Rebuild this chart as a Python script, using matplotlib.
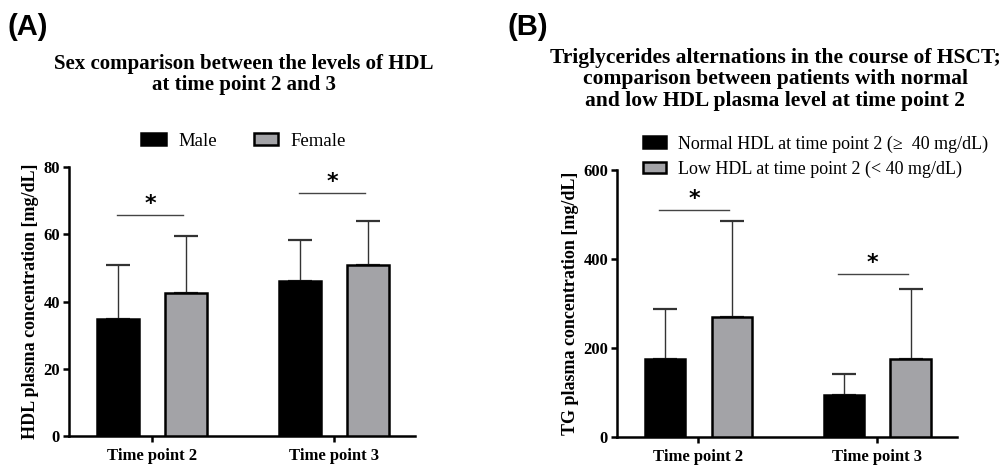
import numpy as np
import matplotlib
matplotlib.use('Agg')
import matplotlib.pyplot as plt

# data
time_points = ['Time point 2', 'Time point 3']

hdl_male = [34.8, 46.0]
hdl_male_sd = [16.2, 12.2]
hdl_female = [42.4, 50.8]
hdl_female_sd = [17.1, 13.2]
hdl_sig_y = [65.6, 72.2]

tg_normal = [176, 94]
tg_normal_sd = [112, 48]
tg_low = [270, 175]
tg_low_sd = [215, 158]
tg_sig_y = [510, 366]

plt.rcParams['font.family'] = ['Liberation Serif', 'DejaVu Serif']

BLACK = '#000000'
GRAY = '#a3a3a7'
off = 0.187
width = 0.228

fig = plt.figure(figsize=(10.03, 4.66), dpi=100)
axA = fig.add_axes([0.0688, 0.0644, 0.345, 0.5772])
axB = fig.add_axes([0.6152, 0.0622, 0.3389, 0.573])


def draw_panel(ax, v1, s1, v2, s2, sig_y, sig_x, ymax, yticks, ylabel):
    x = np.arange(len(time_points))
    b1 = ax.bar(x - off, v1, width, color=BLACK, edgecolor=BLACK, linewidth=1.8, zorder=3)
    b2 = ax.bar(x + off, v2, width, color=GRAY, edgecolor=BLACK, linewidth=1.8, zorder=3)
    for xs, vals, sds in [(x - off, v1, s1), (x + off, v2, s2)]:
        ax.errorbar(xs, vals, yerr=[np.zeros(len(sds)), sds], fmt='none',
                    ecolor='#333333', elinewidth=1.0, capsize=8.3, capthick=1.6, zorder=2)
    for i, y in enumerate(sig_y):
        ax.plot([i + sig_x[0], i + sig_x[1]], [y, y], color='#444444', lw=1.0)
        ax.text(i + (sig_x[0] + sig_x[1]) / 2, y + ymax * 0.042, '*', ha='center', va='center',
                fontsize=16, fontweight='bold', family='DejaVu Sans')
    ax.set_xlim(-0.455, 1.445)
    ax.set_ylim(0, ymax)
    ax.set_yticks(yticks)
    ax.set_xticks(x)
    ax.set_xticklabels(time_points)
    for s in ['top', 'right']:
        ax.spines[s].set_visible(False)
    for s in ['left', 'bottom']:
        ax.spines[s].set_linewidth(1.8)
    ax.tick_params(axis='both', length=4.5, width=1.8, labelsize=12, pad=2)
    ax.tick_params(axis='x', pad=4)
    for lab in ax.get_xticklabels() + ax.get_yticklabels():
        lab.set_fontweight('bold')
    ax.set_ylabel(ylabel, fontsize=13, fontweight='bold', labelpad=3)
    return b1, b2


bA1, bA2 = draw_panel(axA, hdl_male, hdl_male_sd, hdl_female, hdl_female_sd,
                      hdl_sig_y, (-0.19, 0.17), 80, [0, 20, 40, 60, 80],
                      'HDL plasma concentration [mg/dL]')
bB1, bB2 = draw_panel(axB, tg_normal, tg_normal_sd, tg_low, tg_low_sd,
                      tg_sig_y, (-0.22, 0.17), 600, [0, 200, 400, 600],
                      'TG plasma concentration [mg/dL]')

# titles and panel labels
fig.text(0.007, 0.942, '(A)', fontsize=21, fontweight='bold', family='Liberation Sans', va='center')
fig.text(0.506, 0.942, '(B)', fontsize=21, fontweight='bold', family='Liberation Sans', va='center')
fig.text(0.243, 0.84, 'Sex comparison between the levels of HDL\nat time point 2 and 3',
         ha='center', va='center', fontsize=15, fontweight='bold', linespacing=1.1)
fig.text(0.773, 0.83, 'Triglycerides alternations in the course of HSCT;\n'
         'comparison between patients with normal\n'
         'and low HDL plasma level at time point 2',
         ha='center', va='center', fontsize=15.5, fontweight='bold', linespacing=1.1)

# legends
fig.legend([bA1, bA2], ['Male', 'Female'], loc='center', bbox_to_anchor=(0.243, 0.697),
           ncol=2, frameon=False, fontsize=13.5, handlelength=1.3, handleheight=0.6,
           columnspacing=2.0, handletextpad=0.65, borderpad=0, borderaxespad=0)
fig.legend([bB1, bB2], ['Normal HDL at time point 2 (≥  40 mg/dL)',
                        'Low HDL at time point 2 (< 40 mg/dL)'],
           loc='center left', bbox_to_anchor=(0.641, 0.664),
           ncol=1, frameon=False, fontsize=13, handlelength=1.3, handleheight=0.6,
           handletextpad=0.65, labelspacing=0.45, borderpad=0, borderaxespad=0)

fig.savefig('out.png', dpi=100)
